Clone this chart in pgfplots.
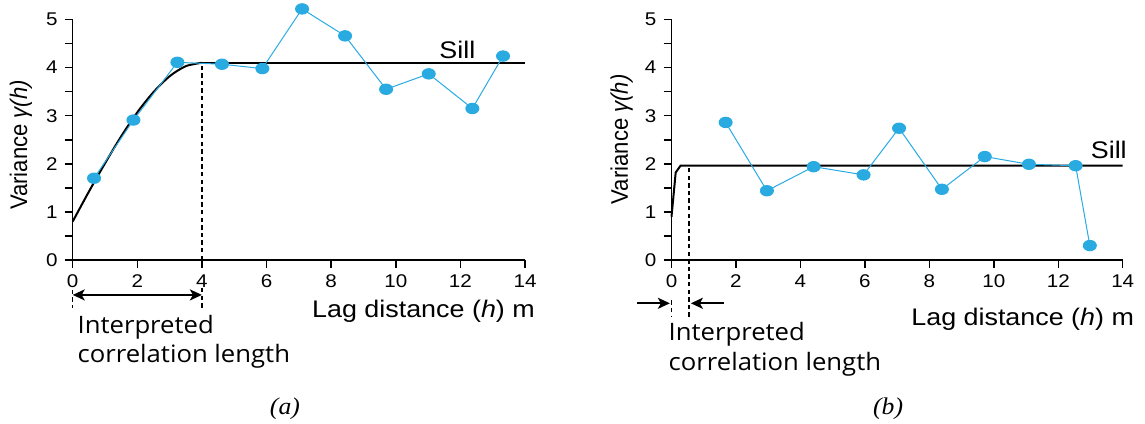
\documentclass[border=0pt]{standalone}
\usepackage{fontspec}
\setmainfont{Liberation Sans}[FakeStretch=1.12]
\newfontfamily\varfont{Liberation Sans}[FakeStretch=0.92]
\newfontfamily\humfont{Open Sans}[FakeStretch=1.07]
\newfontfamily\capfont{Liberation Serif}[FakeStretch=1.07]
\usepackage{pgfplots}
\pgfplotsset{compat=1.18}
\usetikzlibrary{arrows.meta}
\definecolor{dotblue}{RGB}{41,171,226}

\tikzset{
  pts/.style={dotblue, line width=0.5pt, mark=*, mark size=2.6pt,
    mark options={xscale=1.25, fill=dotblue, draw=none}},
  model/.style={black, line width=1pt},
  guide/.style={black, line width=0.8pt, dash pattern=on 2.2pt off 1.6pt},
  tip/.tip={Stealth[length=6pt, width=5.5pt, inset=1.5pt]},
  big/.style={font=\fontsize{12}{14}\selectfont, anchor=base west, inner sep=0pt},
  note/.style={font=\humfont\fontsize{12}{14}\selectfont, anchor=base west, inner sep=0pt},
  ylab/.style={rotate=90, font=\varfont\fontsize{12}{14}\selectfont},
  figcap/.style={anchor=base, inner sep=0pt, font=\capfont\itshape\fontsize{12}{14}\selectfont},
}
\pgfplotsset{
  vario/.style={
    scale only axis, height=120.25pt,
    xmin=0, xmax=14, ymin=0, ymax=5,
    axis lines=left, axis line style={-, line width=0.75pt},
    xtick={0,2,...,14}, ytick={0,...,5}, minor ytick={0.5,1.5,...,4.5},
    tick style={black, line width=0.75pt}, major tick length=4pt, minor tick length=4pt,
    tick align=outside,
    ticklabel style={font=\fontsize{9.2}{11}\selectfont},
    /pgf/number format/assume math mode=true,
    clip=false,
  },
}

\begin{document}
\begin{tikzpicture}
\useasboundingbox (-36.35pt,-81.5pt) rectangle (536.15pt,130pt);

% (a) correlated field
\begin{axis}[vario, width=226.15pt]
\addplot[model, no marks, smooth] coordinates {(0,0.80)(0.5,1.42)(1,2.01)(1.5,2.57)(2,3.07)(2.5,3.49)(3,3.82)(3.5,4.03)(4,4.10)};
\addplot[model, no marks] coordinates {(4,4.10)(14,4.10)};
\addplot[guide, no marks] coordinates {(4,0)(4,4.10)};
\addplot[pts] coordinates {(0.66,1.70)(1.88,2.91)(3.24,4.11)(4.62,4.07)(5.87,3.98)(7.10,5.22)(8.43,4.66)(9.70,3.55)(11.02,3.87)(12.37,3.15)(13.32,4.24)};
\draw[guide] (axis cs:0,-0.62) -- (axis cs:0,-1.0);
\draw[guide] (axis cs:4,-0.58) -- (axis cs:4,-1.0);
\draw[line width=1pt, tip-tip] (axis cs:0,-0.726) -- (axis cs:4,-0.726);
\node[big] at (axis cs:11.34,4.19) {Sill};
\node[big] at (axis cs:7.4,-1.19) {Lag distance (\textit{h}) m};
\node[note] at (axis cs:0.14,-1.52) {Interpreted};
\node[note] at (axis cs:0.14,-2.14) {correlation length};
\node[ylab] at (axis cs:-1.6,2.39) {Variance \textit{γ(h)}};
\node[figcap] at (axis cs:6.57,-3.22) {(a)};
\end{axis}

% (b) nugget-dominated field
\begin{axis}[vario, width=225.6pt, at={(299.4pt,0pt)}]
\addplot[model, no marks] coordinates {(0,0.90)(0.13,1.82)(0.28,1.96)(14,1.96)};
\addplot[guide, no marks] coordinates {(0.55,-1.18)(0.55,1.96)};
\addplot[pts] coordinates {(1.68,2.86)(2.96,1.44)(4.41,1.94)(5.96,1.77)(7.06,2.74)(8.39,1.47)(9.72,2.15)(11.09,1.99)(12.54,1.96)(12.98,0.30)};
\draw[guide] (axis cs:0,-0.84) -- (axis cs:0,-1.18);
\draw[line width=1pt, -tip] (axis cs:-1.06,-0.90) -- (axis cs:-0.05,-0.90);
\draw[line width=1pt, -tip] (axis cs:1.62,-0.90) -- (axis cs:0.60,-0.90);
\node[big] at (axis cs:13.0,2.11) {Sill};
\node[big] at (axis cs:7.43,-1.37) {Lag distance (\textit{h}) m};
\node[note] at (axis cs:-0.1,-1.68) {Interpreted};
\node[note] at (axis cs:-0.1,-2.30) {correlation length};
\node[ylab] at (axis cs:-1.55,2.51) {Variance \textit{γ(h)}};
\node[figcap] at (axis cs:6.72,-3.22) {(b)};
\end{axis}
\end{tikzpicture}
\end{document}
